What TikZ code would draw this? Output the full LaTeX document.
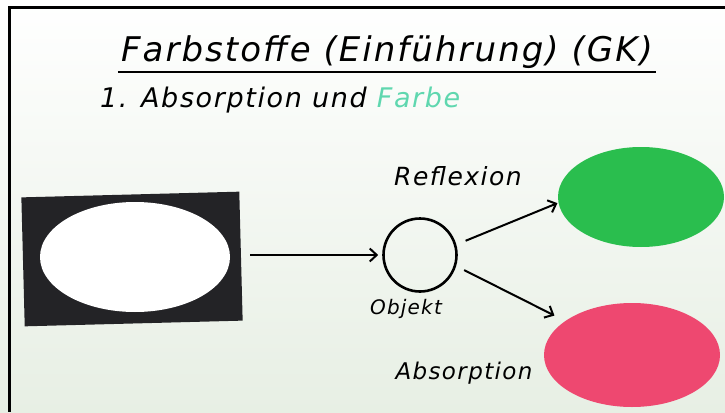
\documentclass[tikz,border=0pt]{standalone}
\usepackage{fontspec}
\setmainfont{DejaVu Sans}
\usetikzlibrary{arrows.meta,positioning,shapes.geometric}
\definecolor{tafel}{RGB}{231,239,228}
\definecolor{tuerkis}{RGB}{95,215,175}
\definecolor{gruen}{RGB}{42,190,78}
\definecolor{pink}{RGB}{238,72,112}
\definecolor{karton}{RGB}{35,35,38}

\begin{document}
\begin{tikzpicture}
    [x=1pt,y=-1pt,
      schrift/.style={inner sep=0pt, font=\fontsize{#1}{#1}\selectfont\itshape\addfontfeature{LetterSpace=6}},
      pfeil/.style={line width=2pt,-{Straight Barb[length=7pt,width=13pt]}},
      fleck/.style={ellipse, inner sep=0pt},
    ]
    \useasboundingbox (0,0) rectangle (725,412);
    \shade [top color=white, bottom color=tafel] (0,0) rectangle (725,412);
    \draw [line width=3pt] (725,7.5) -- (9.5,7.5) -- (9.5,412);

    % Ueberschrift
    \node [schrift=34, anchor=base] (titel) at (387,61) {Farbstoffe (Einführung) (GK)};
    \draw [line width=2.4pt] ([xshift=-3pt,yshift=-11pt]titel.base west) -- ([xshift=3pt,yshift=-11pt]titel.base east);
    \node [schrift=27, anchor=base west] (thema) at (100,107) {1. Absorption und \textcolor{tuerkis}{Farbe}};

    % weisses Licht
    \node [fill=karton, minimum width=218pt, minimum height=129pt, rotate=1.5, inner sep=0pt] (karte) at (132,259) {};
    \node [fleck, fill=white, minimum width=190pt, minimum height=110pt] (weiss) at (135,257) {};

    % Objekt
    \node [circle, draw, line width=2.6pt, minimum size=73pt, inner sep=0pt] (objekt) at (420,255) {};
    \node [schrift=20, below=6pt of objekt, xshift=-14pt] (objlabel) {Objekt};

    % Farben
    \node [fleck, fill=gruen, minimum width=166pt, minimum height=100pt] (gruen) at (641,197) {};
    \node [fleck, fill=pink, minimum width=176pt, minimum height=104pt] (rot) at (632,355) {};
    \node [schrift=25] (reflexion) at (458,176) {Reflexion};
    \node [schrift=23] (absorption) at (464,373) {Absorption};

    \draw [pfeil, shorten <=9pt, shorten >=4pt] (karte.east |- objekt.west) -- (objekt.west);
    \draw [pfeil, shorten <=10pt, shorten >=1pt] (objekt.16) -- (gruen.184);
    \draw [pfeil, shorten <=9pt, shorten >=12pt] (objekt.-17) -- (rot.153);
  \end{tikzpicture}
\end{document}
